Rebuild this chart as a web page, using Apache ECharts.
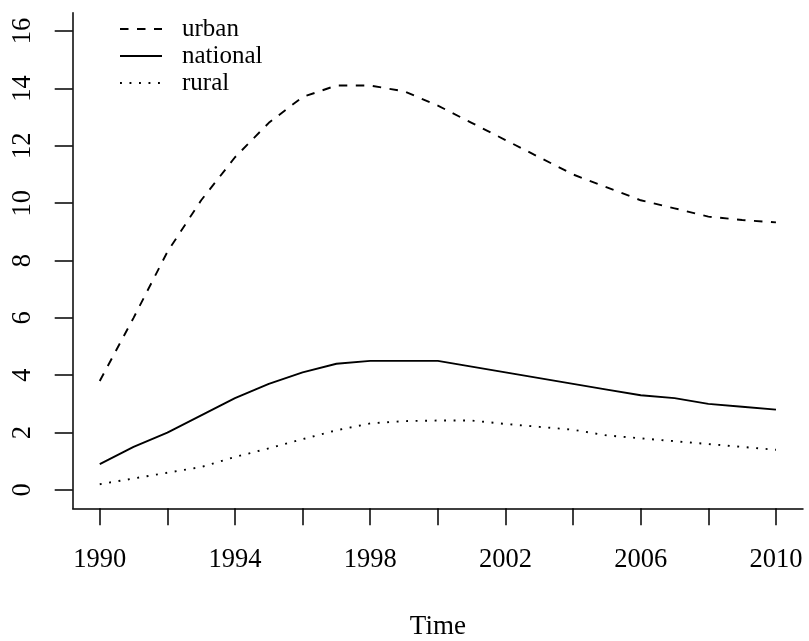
<!DOCTYPE html>
<html>
<head>
<meta charset="utf-8">
<script src="https://cdn.jsdelivr.net/npm/echarts@6/dist/echarts.min.js"></script>
<style>
  html, body { margin: 0; padding: 0; background: #fff; }
  #chart { width: 809px; height: 641px; }
</style>
</head>
<body>
<div id="chart"></div>
<script>
// ---- data ----
const years = [1990,1991,1992,1993,1994,1995,1996,1997,1998,1999,2000,2001,2002,2003,2004,2005,2006,2007,2008,2009,2010];
const urban = [3.8,6.0,8.3,10.1,11.6,12.8,13.7,14.1,14.1,13.9,13.4,12.8,12.2,11.6,11.0,10.55,10.1,9.82,9.53,9.41,9.33];
const national = [0.9,1.5,2.0,2.6,3.2,3.7,4.1,4.4,4.5,4.5,4.5,4.3,4.1,3.9,3.7,3.5,3.3,3.2,3.0,2.9,2.8];
const rural = [0.2,0.4,0.6,0.8,1.15,1.45,1.77,2.08,2.32,2.4,2.42,2.42,2.3,2.2,2.1,1.9,1.8,1.7,1.6,1.5,1.4];
const seriesNames = ['urban', 'national', 'rural'];
const xTicks = [1990,1992,1994,1996,1998,2000,2002,2004,2006,2008,2010];
const xLabels = [1990,1994,1998,2002,2006,2010];
const yTicks = [0,2,4,6,8,10,12,14,16];
const xTitle = 'Time';

const FONT = '"Liberation Serif", "DejaVu Serif", serif';
const pair = (vals) => years.map((y, i) => [y, vals[i]]);

const chart = echarts.init(document.getElementById('chart'), null, { renderer: 'canvas' });
chart.setOption({
  animation: false,
  backgroundColor: '#ffffff',
  textStyle: { fontFamily: FONT, color: '#000' },
  grid: { left: 72.7, right: 6, top: 12.7, bottom: 132.7, containLabel: false, outerBoundsMode: 'none' },
  legend: {
    data: seriesNames,
    orient: 'vertical',
    left: 119,
    top: 16.5,
    padding: 0,
    itemWidth: 42,
    itemHeight: 14,
    itemGap: 2,
    itemStyle: { color: 'rgba(0,0,0,0)', borderWidth: 0, opacity: 0 },
    textStyle: { fontFamily: FONT, fontSize: 25, color: '#000', padding: [0, 0, 0, 15] },
    selectedMode: false
  },
  xAxis: {
    type: 'value',
    min: 1989.2,
    max: 2010.8,
    name: xTitle,
    nameLocation: 'middle',
    nameGap: 105,
    nameTextStyle: { fontFamily: FONT, fontSize: 27, color: '#000' },
    axisLine: { show: true, onZero: false, lineStyle: { color: '#000', width: 1.5 } },
    axisTick: { show: true, inside: false, length: 17, customValues: xTicks, lineStyle: { color: '#000', width: 1.5 } },
    axisLabel: { show: true, customValues: xLabels, margin: 38, fontFamily: FONT, fontSize: 26.5, color: '#000', formatter: (v) => String(v) },
    splitLine: { show: false }
  },
  yAxis: {
    type: 'value',
    min: -0.64,
    max: 16.64,
    axisLine: { show: true, onZero: false, lineStyle: { color: '#000', width: 1.5 } },
    axisTick: { show: true, inside: false, length: 18, customValues: yTicks, lineStyle: { color: '#000', width: 1.5 } },
    axisLabel: { show: true, customValues: yTicks, rotate: 90, margin: 36, fontFamily: FONT, fontSize: 26.5, color: '#000' },
    splitLine: { show: false }
  },
  series: [
    {
      name: 'urban', type: 'line', data: pair(urban), symbol: 'none', smooth: false,
      lineStyle: { color: '#000', width: 1.9, type: [8.5, 8.5], cap: 'butt' },
      itemStyle: { color: '#000' }
    },
    {
      name: 'national', type: 'line', data: pair(national), symbol: 'none', smooth: false,
      lineStyle: { color: '#000', width: 1.9, type: 'solid' },
      itemStyle: { color: '#000' }
    },
    {
      name: 'rural', type: 'line', data: pair(rural), symbol: 'none', smooth: false,
      lineStyle: { color: '#000', width: 1.9, type: [1.9, 7.6], cap: 'butt' },
      itemStyle: { color: '#000' }
    }
  ]
});
</script>
</body>
</html>
